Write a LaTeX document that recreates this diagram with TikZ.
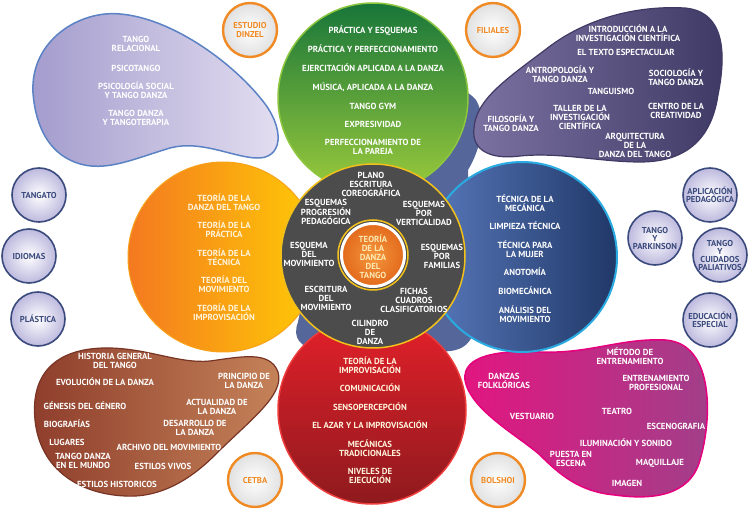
\documentclass[tikz,border=0pt]{standalone}
\usepackage{fontspec}
\setmainfont{PT Sans}
\definecolor{satblue}{HTML}{3A4A7C}
\definecolor{satfill}{HTML}{BDB9DE}
\definecolor{instorange}{HTML}{F08A24}
\definecolor{silh}{HTML}{55679A}
\definecolor{lavline}{HTML}{5B82C4}
\definecolor{lavA}{HTML}{A39CCD}
\definecolor{lavB}{HTML}{E4DFF1}
\definecolor{purline}{HTML}{403A64}
\definecolor{purA}{HTML}{7C72A2}
\definecolor{purB}{HTML}{3E3964}
\definecolor{brnline}{HTML}{783424}
\definecolor{brnA}{HTML}{8E3D2B}
\definecolor{brnB}{HTML}{C6845A}
\definecolor{magline}{HTML}{E6007E}
\definecolor{magA}{HTML}{E21680}
\definecolor{magB}{HTML}{A0408A}
\definecolor{grnline}{HTML}{8DC63F}
\definecolor{grnA}{HTML}{18763A}
\definecolor{grnB}{HTML}{9CCB3B}
\definecolor{orgline}{HTML}{F7A21B}
\definecolor{orgA}{HTML}{F47920}
\definecolor{orgB}{HTML}{FFCB05}
\definecolor{bluline}{HTML}{29ABE2}
\definecolor{bluA}{HTML}{5878BA}
\definecolor{bluB}{HTML}{203868}
\definecolor{redline}{HTML}{EE3B3B}
\definecolor{redA}{HTML}{E4202A}
\definecolor{redB}{HTML}{8E1A1E}
\definecolor{hubfill}{HTML}{4C4C4C}
\definecolor{hubline}{HTML}{F2C01B}
\definecolor{coreA}{HTML}{F5963C}
\definecolor{coreB}{HTML}{E26A1C}
\definecolor{coretext}{HTML}{FDE9B2}
\definecolor{warmtext}{HTML}{FFF4DC}
\begin{document}
\begin{tikzpicture}[x=1pt,y=-1pt,
    lbl/.style={align=center,inner sep=0pt,text=white,font=\bfseries\fontsize{8.8}{9}\selectfont},
    sat/.style={circle,minimum size=54pt,inner sep=0pt,draw=satblue,line width=1.6pt,inner color=white,outer color=satfill,text=satblue,align=center,font=\bfseries\fontsize{8.6}{8}\selectfont},
    inst/.style={circle,minimum size=54pt,inner sep=0pt,draw=instorange,line width=2.4pt,inner color=white,outer color=black!12,text=instorange,align=center,font=\bfseries\fontsize{8.6}{8.6}\selectfont}]
  \useasboundingbox (0,0) rectangle (750,510);
  \tikzstyle{every node}+=[inner sep=0pt]
  % silhouette behind
  \fill [silh] (330,80) .. controls (400,70) and (460,80) .. (476,100) .. controls (488,120) and (480,150) .. (468,170) -- (474,330) .. controls (470,350) and (452,354) .. (430,350) -- (320,350) .. controls (300,348) and (292,338) .. (298,322) -- (330,160) -- cycle;
  % blobs
  \path [draw=lavline,line width=1.5pt,left color=lavA,right color=lavB]
    (33,93) .. controls (30,40) and (80,10) .. (120,14) .. controls (170,18) and (230,60) .. (262,100) .. controls (285,128) and (284,160) .. (255,158) .. controls (230,156) and (200,140) .. (170,148) .. controls (130,160) and (100,175) .. (70,160) .. controls (45,148) and (35,120) .. (33,93);
  \path [draw=purline,line width=1.2pt,left color=purA,right color=purB]
    (474,128) .. controls (476,100) and (505,80) .. (545,50) .. controls (580,22) and (630,5) .. (685,8) .. controls (728,12) and (725,60) .. (718,95) .. controls (712,135) and (690,162) .. (640,162) .. controls (600,162) and (560,152) .. (520,156) .. controls (490,160) and (471,150) .. (474,128);
  \path [draw=brnline,line width=1.2pt,left color=brnA,right color=brnB]
    (35,420) .. controls (30,370) and (60,347) .. (110,348) .. controls (150,349) and (180,364) .. (210,361) .. controls (240,357) and (270,350) .. (278,372) .. controls (285,395) and (250,420) .. (215,455) .. controls (190,480) and (160,498) .. (125,496) .. controls (80,494) and (40,470) .. (35,420);
  \path [draw=magline,line width=1.5pt,left color=magA,right color=magB]
    (465,380) .. controls (462,355) and (500,350) .. (540,352) .. controls (590,354) and (620,338) .. (665,340) .. controls (715,343) and (712,420) .. (700,460) .. controls (690,497) and (650,500) .. (615,495) .. controls (580,492) and (560,475) .. (540,455) .. controls (520,437) and (470,410) .. (465,380);
  % petals
  \path [draw=grnline,line width=1.5pt,top color=grnA,bottom color=grnB] (373,98) circle (95);
  \path [draw=orgline,line width=1pt,left color=orgA,right color=orgB] (223,257) circle (95);
  \path [draw=bluline,line width=2pt,left color=bluA,right color=bluB] (522,257) circle (95);
  \path [draw=redline,line width=1.5pt,top color=redA,bottom color=redB] (372,410) circle (94);
  % centre
  \path [draw=hubline,line width=1.5pt,fill=hubfill] (373,256) circle (92);
  \draw [hubline,line width=1.5pt] (373,255) circle (35);
  \path [draw=white,line width=3pt,inner color=coreA,outer color=coreB] (373,255) circle (31.5);
  % satellites
  \node [inst] (dinzel) at (250,30) {ESTUDIO\\DINZEL};
  \node [inst] (filiales) at (493,30) {FILIALES};
  \node [inst] (cetba) at (255,480) {CETBA};
  \node [inst] (bolshoi) at (498,480) {BOLSHOI};
  \node [sat] (tangato) at (39,195) {TANGATO};
  \node [sat] (idiomas) at (29,256) {IDIOMAS};
  \node [sat] (plastica) at (38,319) {PLÁSTICA};
  \node [sat] (aplic) at (710,195) {APLICACIÓN\\PEDAGÓGICA};
  \node [sat] (parkinson) at (655,238) {TANGO\\Y\\PARKINSON};
  \node [sat] (paliat) at (720,255) {TANGO\\Y\\CUIDADOS\\PALIATIVOS};
  \node [sat] (educ) at (710,320) {EDUCACIÓN\\ESPECIAL};
  % lavender
  \node [lbl] (lv1) at (136,44) {TANGO\\RELACIONAL};
  \node [lbl] (lv2) at (136,68) {PSICOTANGO};
  \node [lbl] (lv3) at (136,90) {PSICOLOGÍA SOCIAL\\Y TANGO DANZA};
  \node [lbl] (lv4) at (136,118) {TANGO DANZA\\Y TANGOTERAPIA};
  % green
  \node [lbl] (g1) at (373,31) {PRÁCTICA Y ESQUEMAS};
  \node [lbl] (g2) at (373,49) {PRÁCTICA Y PERFECCIONAMIENTO};
  \node [lbl] (g3) at (373,68) {EJERCITACIÓN APLICADA A LA DANZA};
  \node [lbl] (g4) at (373,87) {MÚSICA, APLICADA A LA DANZA};
  \node [lbl] (g5) at (373,106) {TANGO GYM};
  \node [lbl] (g6) at (373,124) {EXPRESIVIDAD};
  \node [lbl] (g7) at (373,147) {PERFECCIONAMIENTO DE\\LA PAREJA};
  % purple
  \node [lbl] (p1) at (628,33) {INTRODUCCIÓN A LA\\INVESTIGACIÓN CIENTÍFICA};
  \node [lbl] (p2) at (626,52) {EL TEXTO ESPECTACULAR};
  \node [lbl] (p3) at (560,74) {ANTROPOLOGÍA Y\\TANGO DANZA};
  \node [lbl] (p4) at (676,77) {SOCIOLOGÍA Y\\TANGO DANZA};
  \node [lbl] (p5) at (611,91) {TANGUISMO};
  \node [lbl] (p6) at (676,111) {CENTRO DE LA\\CREATIVIDAD};
  \node [lbl] (p7) at (580,117) {TALLER DE LA\\INVESTIGACIÓN\\CIENTÍFICA};
  \node [lbl] (p8) at (511,123) {FILOSOFÍA Y\\TANGO DANZA};
  \node [lbl] (p9) at (635,145) {ARQUITECTURA\\DE LA\\DANZA DEL TANGO};
  % orange
  \node [lbl,text=warmtext] (o1) at (224,202) {TEORÍA DE LA\\DANZA DEL TANGO};
  \node [lbl,text=warmtext] (o2) at (224,229) {TEORÍA DE LA\\PRÁCTICA};
  \node [lbl,text=warmtext] (o3) at (224,257) {TEORÍA DE LA\\TÉCNICA};
  \node [lbl,text=warmtext] (o4) at (224,284) {TEORÍA DEL\\MOVIMIENTO};
  \node [lbl,text=warmtext] (o5) at (224,312) {TEORÍA DE LA\\IMPROVISACIÓN};
  % blue
  \node [lbl] (b1) at (525,203) {TÉCNICA DE LA\\MECÁNICA};
  \node [lbl] (b2) at (525,226) {LIMPIEZA TÉCNICA};
  \node [lbl] (b3) at (525,249) {TÉCNICA PARA\\LA MUJER};
  \node [lbl] (b4) at (525,272) {ANOTOMÍA};
  \node [lbl] (b5) at (525,291) {BIOMECÁNICA};
  \node [lbl] (b6) at (525,314) {ANÁLISIS DEL\\MOVIMIENTO};
  % centre texts
  \node [lbl] (c1) at (371,184) {PLANO\\ESCRITURA\\COREOGRÁFICA};
  \node [lbl] (c2) at (326,212) {ESQUEMAS\\PROGRESIÓN\\PEDAGÓGICA};
  \node [lbl] (c3) at (424,213) {ESQUEMAS\\POR\\VERTICALIDAD};
  \node [lbl] (c4) at (309,254) {ESQUEMA\\DEL\\MOVIMIENTO};
  \node [lbl] (c5) at (442,256) {ESQUEMAS\\POR\\FAMILIAS};
  \node [lbl] (c6) at (326,298) {ESCRITURA\\DEL\\MOVIMIENTO};
  \node [lbl] (c7) at (414,300) {FICHAS\\CUADROS\\CLASIFICATORIOS};
  \node [lbl] (c8) at (370,332) {CILINDRO\\DE\\DANZA};
  \node [lbl,text=coretext] (core) at (373,257) {TEORÍA\\DE LA\\DANZA\\DEL\\TANGO};
  % red
  \node [lbl,text=warmtext] (r1) at (370,365) {TEORÍA DE LA\\IMPROVISACIÓN};
  \node [lbl,text=warmtext] (r2) at (370,388) {COMUNICACIÓN};
  \node [lbl,text=warmtext] (r3) at (370,407) {SENSOPERCEPCIÓN};
  \node [lbl,text=warmtext] (r4) at (370,425) {EL AZAR Y LA IMPROVISACIÓN};
  \node [lbl,text=warmtext] (r5) at (370,448) {MECÁNICAS\\TRADICIONALES};
  \node [lbl,text=warmtext] (r6) at (370,476) {NIVELES DE\\EJECUCIÓN};
  % brown
  \node [lbl] (h1) at (115,361) {HISTORIA GENERAL\\DEL TANGO};
  \node [lbl] (h2) at (105,382) {EVOLUCIÓN DE LA DANZA};
  \node [lbl] (h3) at (244,381) {PRINCIPIO DE\\LA DANZA};
  \node [lbl] (h4) at (85,406) {GÉNESIS DEL GÉNERO};
  \node [lbl] (h5) at (217,407) {ACTUALIDAD DE\\LA DANZA};
  \node [lbl] (h6) at (67,424) {BIOGRAFÍAS};
  \node [lbl] (h7) at (195,428) {DESARROLLO DE\\LA DANZA};
  \node [lbl] (h8) at (67,442) {LUGARES};
  \node [lbl] (h9) at (169,447) {ARCHIVO DEL MOVIMIENTO};
  \node [lbl] (h10) at (83,461) {TANGO DANZA\\EN EL MUNDO};
  \node [lbl] (h11) at (163,466) {ESTILOS VIVOS};
  \node [lbl] (h12) at (117,484) {ESTILOS HISTORICOS};
  % magenta
  \node [lbl] (m1) at (630,356) {MÉTODO DE\\ENTRENAMIENTO};
  \node [lbl] (m2) at (504,381) {DANZAS\\FOLKLÓRICAS};
  \node [lbl] (m3) at (656,383) {ENTRENAMIENTO\\PROFESIONAL};
  \node [lbl] (m4) at (532,416) {VESTUARIO};
  \node [lbl] (m5) at (617,411) {TEATRO};
  \node [lbl] (m6) at (676,426) {ESCENOGRAFIA};
  \node [lbl] (m7) at (626,443) {ILUMINACIÓN Y SONIDO};
  \node [lbl] (m8) at (571,459) {PUESTA EN\\ESCENA};
  \node [lbl] (m9) at (660,463) {MAQUILLAJE};
  \node [lbl] (m10) at (627,483) {IMAGEN};
\end{tikzpicture}
\end{document}
